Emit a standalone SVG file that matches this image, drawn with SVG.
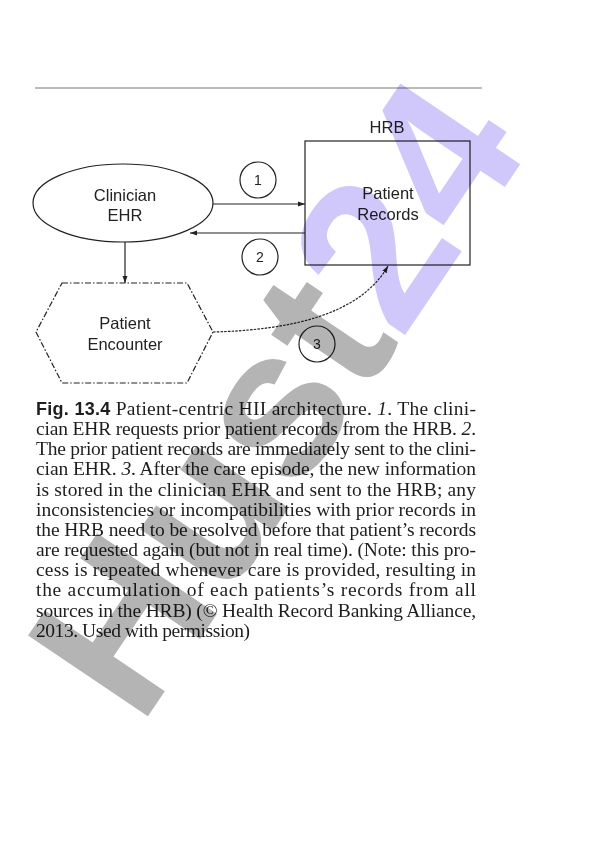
<svg xmlns="http://www.w3.org/2000/svg" width="596" height="842" viewBox="0 0 596 842">
<defs>
<style>
.lbl{font-family:"Liberation Sans",Arial,sans-serif;font-size:16.5px;fill:#222;text-anchor:middle}
.num{font-family:"Liberation Sans",Arial,sans-serif;font-size:14px;fill:#222;text-anchor:middle}
.ln{stroke:#222;stroke-width:1.2;fill:none}
.cap{font-family:"Liberation Serif","Times New Roman",serif;font-size:19.5px;fill:#1e1e1e}
.figno{font-family:"Liberation Sans",Arial,sans-serif;font-weight:bold;font-size:18px}
.it{font-style:italic}
.wm{font-family:"Liberation Sans",Arial,sans-serif;font-weight:bold;font-size:210px}
</style>
<marker id="ah" viewBox="0 0 10 10" refX="10" refY="5" markerWidth="7" markerHeight="7" orient="auto" markerUnits="userSpaceOnUse">
<path d="M0,1.5 L10,5 L0,8.5 z" fill="#222"/>
</marker>
</defs>
<rect width="596" height="842" fill="#fff"/>
<line x1="35" y1="88" x2="482" y2="88" stroke="#777" stroke-width="1"/>

<g id="hrb">
<text class="lbl" x="387" y="133">HRB</text>
<rect x="305" y="141" width="165" height="124" class="ln"/>
<text class="lbl" x="388" y="199">Patient</text>
<text class="lbl" x="388" y="220">Records</text>
</g>

<g id="clinician-ehr">
<ellipse cx="123" cy="203" rx="90" ry="39" class="ln"/>
<text class="lbl" x="125" y="201">Clinician</text>
<text class="lbl" x="125" y="221">EHR</text>
</g>

<g id="patient-encounter">
<polygon points="62,283 187,283 213,332 187,383 62,383 36,332" class="ln" stroke-dasharray="6 2 1.5 2"/>
<text class="lbl" x="125" y="329">Patient</text>
<text class="lbl" x="125" y="350">Encounter</text>
</g>

<g id="connectors">
<line x1="213" y1="204" x2="305" y2="204" class="ln" marker-end="url(#ah)"/>
<line x1="305" y1="233" x2="190" y2="233" class="ln" marker-end="url(#ah)"/>
<line x1="125" y1="242" x2="125" y2="283" class="ln" marker-end="url(#ah)"/>
<path d="M213,332 C290,330 360,315 388,266" class="ln" stroke-dasharray="2.5 1.2" marker-end="url(#ah)"/>
</g>

<g id="step1">
<circle cx="258" cy="180" r="18" class="ln"/>
<text class="num" x="258" y="185">1</text>
</g>
<g id="step2">
<circle cx="260" cy="257" r="18" class="ln"/>
<text class="num" x="260" y="262">2</text>
</g>
<g id="step3">
<circle cx="317" cy="344" r="18" class="ln"/>
<text class="num" x="317" y="349">3</text>
</g>

<g id="caption" class="cap">
<text x="36" y="415" textLength="440"><tspan class="figno">Fig. 13.4</tspan>  Patient-centric HII architecture. <tspan class="it">1</tspan>. The clini-</text>
<text x="36" y="435" textLength="440">cian EHR requests prior patient records from the HRB. <tspan class="it">2</tspan>.</text>
<text x="36" y="455" textLength="440">The prior patient records are immediately sent to the clini-</text>
<text x="36" y="475" textLength="440">cian EHR. <tspan class="it">3</tspan>. After the care episode, the new information</text>
<text x="36" y="495.5" textLength="440">is stored in the clinician EHR and sent to the HRB; any</text>
<text x="36" y="515.5" textLength="440">inconsistencies or incompatibilities with prior records in</text>
<text x="36" y="536" textLength="440">the HRB need to be resolved before that patient’s records</text>
<text x="36" y="556" textLength="440">are requested again (but not in real time). (Note: this pro-</text>
<text x="36" y="576" textLength="440">cess is repeated whenever care is provided, resulting in</text>
<text x="36" y="596" textLength="440">the accumulation of each patients’s records from all</text>
<text x="36" y="616.5" textLength="440">sources in the HRB) (© Health Record Banking Alliance,</text>
<text x="36" y="636.5" textLength="214">2013. Used with permission)</text>
</g>

<g id="watermark" style="mix-blend-mode:multiply" transform="translate(140,728) rotate(-56)">
<text class="wm" x="0" y="0"><tspan fill="#b4b4b4">Hust</tspan><tspan fill="#d0c8fb">24</tspan></text>
</g>
</svg>
